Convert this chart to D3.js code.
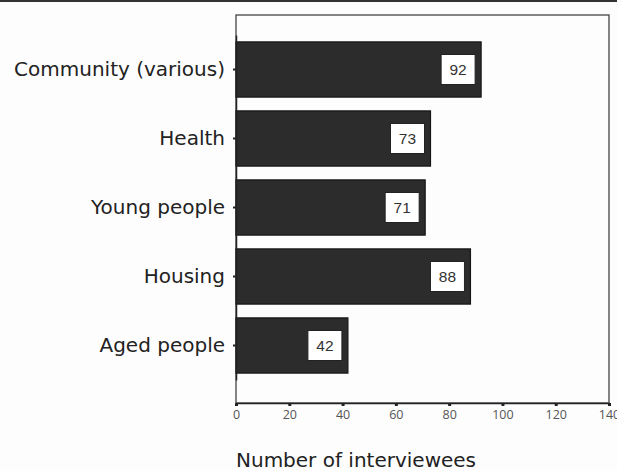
<!DOCTYPE html>
<html>
<head>
<meta charset="utf-8">
<script src="https://cdn.jsdelivr.net/npm/d3@7/dist/d3.min.js"></script>
<style>
  html, body { margin: 0; padding: 0; background: #fdfdfd; }
  svg { display: block; }
</style>
</head>
<body>
<svg id="chart" width="617" height="471"></svg>
<script>
// Interviewees per sector
const categories = ["Community (various)", "Health", "Young people", "Housing", "Aged people"];
const interviewees = [92, 73, 71, 88, 42];
const xTicks = [0, 20, 40, 60, 80, 100, 120, 140];
const xTitle = "Number of interviewees";

const svg = d3.select("#chart");
const W = 617, H = 471;
const plot = { left: 236, right: 609, top: 15, bottom: 403 };

svg.append("rect").attr("width", W).attr("height", H).attr("fill", "#fdfdfd");
// dark rule along the top edge
svg.append("rect").attr("x", 0).attr("y", 0).attr("width", W).attr("height", 2).attr("fill", "#333");

const x = d3.scaleLinear().domain([0, 140]).range([plot.left, plot.right]);
const y = d3.scaleBand().domain(categories).range([35, 380]).paddingInner(0.2).paddingOuter(0.1);

// plot frame
svg.append("rect")
  .attr("x", plot.left).attr("y", plot.top)
  .attr("width", plot.right - plot.left).attr("height", plot.bottom - plot.top)
  .attr("fill", "none").attr("stroke", "#444").attr("stroke-width", 1.3);

const data = categories.map((c, i) => ({ c, v: interviewees[i] }));

// bars
svg.append("g").selectAll("rect").data(data).join("rect")
  .attr("x", x(0))
  .attr("y", d => y(d.c))
  .attr("width", d => x(d.v) - x(0))
  .attr("height", y.bandwidth())
  .attr("fill", "#2c2c2c")
  .attr("stroke", "#151515")
  .attr("stroke-width", 1.2);

// value boxes
const boxW = 34, boxH = 30;
const lab = svg.append("g").selectAll("g").data(data).join("g")
  .attr("transform", d => `translate(${x(d.v) - 6 - boxW},${y(d.c) + y.bandwidth() / 2 - boxH / 2})`);
lab.append("rect").attr("width", boxW).attr("height", boxH)
  .attr("fill", "#fff").attr("stroke", "#222").attr("stroke-width", 1);
lab.append("text").attr("x", boxW / 2).attr("y", boxH / 2).attr("dy", "0.36em")
  .attr("text-anchor", "middle")
  .attr("font-family", "Liberation Sans, Arial, sans-serif").attr("font-size", 15.5)
  .attr("fill", "#333").text(d => d.v);

// x axis
const xAxis = d3.axisBottom(x).tickValues(xTicks).tickSize(3).tickSizeOuter(0).tickPadding(4);
const gx = svg.append("g").attr("transform", `translate(0,${plot.bottom})`).call(xAxis);
gx.select(".domain").attr("stroke", "#222").attr("stroke-width", 1.5);
gx.selectAll(".tick line").attr("stroke", "#222").attr("stroke-width", 3);
gx.selectAll(".tick text").attr("font-family", "Open Sans, DejaVu Sans, sans-serif")
  .attr("font-size", 12.5).attr("fill", "#555");

// y axis
const yAxis = d3.axisLeft(y).tickSize(3).tickSizeOuter(0).tickPadding(8);
const gy = svg.append("g").attr("transform", `translate(${plot.left},0)`).call(yAxis);
gy.select(".domain").attr("stroke", "#222").attr("stroke-width", 1.5);
gy.selectAll(".tick line").attr("stroke", "#222").attr("stroke-width", 2);
gy.selectAll(".tick text").attr("font-family", "DejaVu Sans, Verdana, sans-serif")
  .attr("font-size", 20).attr("fill", "#222");

// axis title
svg.append("text").attr("x", 236).attr("y", 467)
  .attr("font-family", "DejaVu Sans, Verdana, sans-serif").attr("font-size", 20)
  .attr("fill", "#222").text(xTitle);
</script>
</body>
</html>
